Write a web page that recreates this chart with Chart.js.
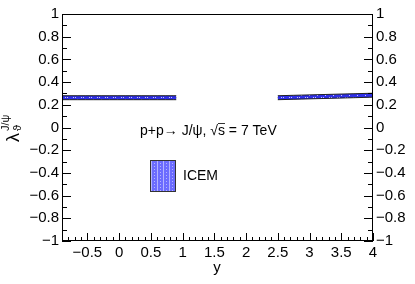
<!DOCTYPE html>
<html>
<head>
<meta charset="utf-8">
<script src="https://cdn.jsdelivr.net/npm/chart.js@4.4.0/dist/chart.umd.min.js"></script>
<style>
  html, body { margin: 0; padding: 0; background: #fff; }
  #wrap { width: 415px; height: 284px; }
</style>
</head>
<body>
<div id="wrap"><canvas id="myChart" width="415" height="284"></canvas></div>
<script>
'use strict';
// band 1 (mid rapidity) and band 2 (forward)
let xMid = [-0.9, 0.9];
let midCentral = [0.262, 0.262];
let midUpper = [0.28, 0.28];
let midLower = [0.245, 0.245];
let xFwd = [2.5, 4];
let fwdCentral = [0.262, 0.284];
let fwdUpper = [0.28, 0.302];
let fwdLower = [0.245, 0.267];
let xTicks = [-0.5, 0, 0.5, 1, 1.5, 2, 2.5, 3, 3.5, 4];
let yTicks = [-1, -0.8, -0.6, -0.4, -0.2, 0, 0.2, 0.4, 0.6, 0.8, 1];
let fontName = '"Liberation Sans", Arial, sans-serif';

function pts(xs, ys) {
    return xs.map((x, i) => ({x: x, y: ys[i]}));
}
function fmt(v) {
    let s = String(Math.round(v * 10) / 10);
    return s.replace('-', '\u2212');
}

// hatched band fill
function makePattern(bg, dot) {
    let c = document.createElement('canvas');
    c.width = 8; c.height = 4;
    let g = c.getContext('2d');
    g.fillStyle = bg;
    g.fillRect(0, 0, 8, 4);
    g.fillStyle = dot;
    g.fillRect(1, 1, 1, 1);
    g.fillRect(3, 1, 1, 1);
    g.fillRect(5, 3, 1, 1);
    return g.createPattern(c, 'repeat');
}
function makeStripes() {
    let c = document.createElement('canvas');
    c.width = 6; c.height = 3;
    let g = c.getContext('2d');
    g.fillStyle = '#6c6cff';
    g.fillRect(0, 0, 6, 3);
    g.fillStyle = '#b4b4ff';
    g.fillRect(1, 0, 1, 3);
    g.fillRect(4, 1, 1, 1);
    return g.createPattern(c, 'repeat');
}
let ctx = document.getElementById('myChart').getContext('2d');
let bandFill = makePattern('#2f2fe8', '#c8c8ff');

let rootStyle = {
    id: 'rootStyle',
    afterDraw(chart) {
        let c = chart.ctx;
        let a = chart.chartArea;
        let xs = chart.scales.x, ys = chart.scales.y;
        c.save();
        c.strokeStyle = '#000';
        c.lineWidth = 1;
        c.strokeRect(a.left + 0.5, a.top + 0.5, a.right - a.left - 1, a.bottom - a.top - 1);
        c.beginPath();
        // x ticks, every 0.1 with major at 0.5
        for (let k = -9; k <= 40; k++) {
            let v = k / 10;
            let px = Math.round(xs.getPixelForValue(v)) + 0.5;
            let len = (k % 5 === 0) ? 8 : 4;
            c.moveTo(px, a.bottom);
            c.lineTo(px, a.bottom - len);
        }
        // y ticks, both sides
        for (let k = -10; k <= 10; k++) {
            let v = k / 10;
            let py = Math.round(ys.getPixelForValue(v)) + 0.5;
            let len = (k % 2 === 0) ? 9 : 5;
            c.moveTo(a.left, py);
            c.lineTo(a.left + len, py);
            c.moveTo(a.right, py);
            c.lineTo(a.right - len, py);
        }
        c.stroke();

        // legend box
        c.fillStyle = makeStripes();
        c.fillRect(150, 160, 26, 32);
        c.strokeStyle = '#333';
        c.strokeRect(150.5, 160.5, 25, 31);

        c.fillStyle = '#000';
        c.textBaseline = 'middle';
        c.font = '14px ' + fontName;
        c.fillText('ICEM', 183, 176);
        let label = 'p+p\u2192 J/\u03c8, \u221as = 7 TeV';
        c.font = '14px ' + fontName;
        c.fillText(label, 140, 131);
        // sqrt overline
        let w0 = c.measureText('p+p\u2192 J/\u03c8, \u221a').width;
        let w1 = c.measureText('s').width;
        c.beginPath();
        c.moveTo(140 + w0, 123.5);
        c.lineTo(140 + w0 + w1, 123.5);
        c.stroke();

        // axis titles
        c.font = '15px ' + fontName;
        c.textAlign = 'center';
        c.fillText('y', 217, 268);
        c.translate(14, 128);
        c.rotate(-Math.PI / 2);
        c.textAlign = 'left';
        c.font = '18px ' + fontName;
        c.fillText('\u03bb', -14, 0);
        c.font = '11px ' + fontName;
        c.fillText('\u03d1', -3, 4);
        c.fillText('J/\u03c8', -3, -8);
        c.restore();
    }
};

let yScale = {
    type: 'linear', min: -1, max: 1,
    grid: {display: false, drawTicks: false},
    border: {display: false},
    afterBuildTicks: s => { s.ticks = yTicks.map(v => ({value: v})); },
    ticks: {color: '#000', padding: 3, font: {family: fontName, size: 15}, callback: v => fmt(v)}
};

let myChart = new Chart(ctx, {
    type: 'line',
    data: {
        datasets: [
            {data: pts(xMid, midUpper), borderColor: '#222', borderWidth: 1, pointRadius: 0, fill: false},
            {data: pts(xMid, midLower), borderColor: '#222', borderWidth: 1, pointRadius: 0, fill: 0, backgroundColor: bandFill},
            {data: pts(xMid, midCentral), borderColor: '#000', borderWidth: 1.5, pointRadius: 0, fill: false},
            {data: pts(xFwd, fwdUpper), borderColor: '#222', borderWidth: 1, pointRadius: 0, fill: false},
            {data: pts(xFwd, fwdLower), borderColor: '#222', borderWidth: 1, pointRadius: 0, fill: 3, backgroundColor: bandFill},
            {data: pts(xFwd, fwdCentral), borderColor: '#000', borderWidth: 1.5, pointRadius: 0, fill: false}
        ]
    },
    options: {
        responsive: false,
        animation: false,
        layout: {padding: {top: 14}},
        plugins: {legend: {display: false}, tooltip: {enabled: false}},
        scales: {
            x: {
                type: 'linear', min: -0.9, max: 4,
                grid: {display: false, drawTicks: false},
                border: {display: false},
                afterBuildTicks: s => { s.ticks = xTicks.map(v => ({value: v})); },
                afterFit: s => { s.height = 43; },
                ticks: {color: '#000', padding: 3, maxRotation: 0, autoSkip: false, font: {family: fontName, size: 15}, callback: v => fmt(v)}
            },
            y: Object.assign({}, yScale, {position: 'left', afterFit: s => { s.width = 62; }}),
            y2: Object.assign({}, yScale, {position: 'right', afterFit: s => { s.width = 42; }})
        }
    },
    plugins: [rootStyle]
});
</script>
</body>
</html>
